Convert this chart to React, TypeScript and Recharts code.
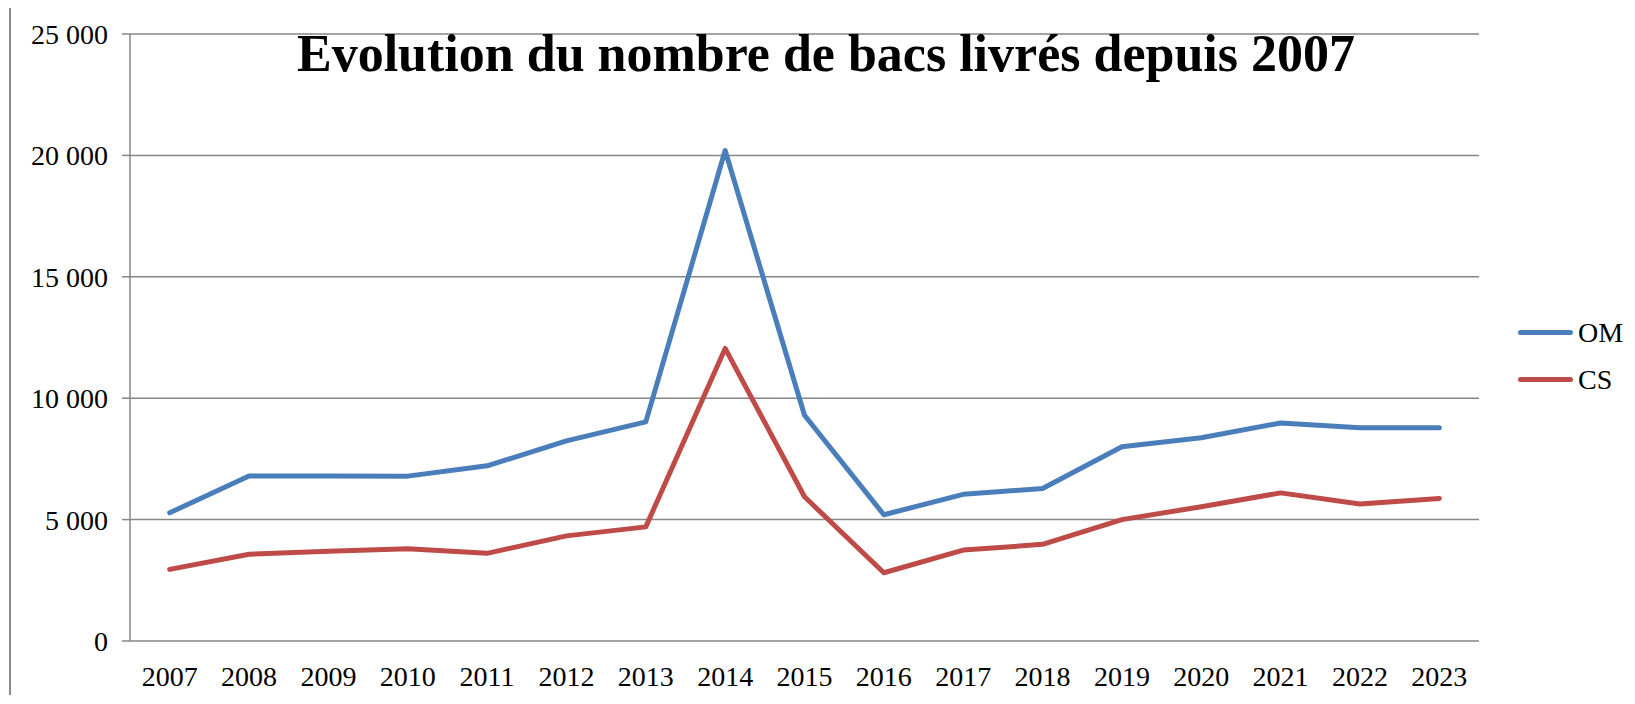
import React from "react";
import { LineChart, Line, XAxis, YAxis, CartesianGrid, Customized } from "recharts";

const years = ["2007", "2008", "2009", "2010", "2011", "2012", "2013", "2014", "2015", "2016", "2017", "2018", "2019", "2020", "2021", "2022", "2023"];
const omValues = [5280, 6800, 6800, 6790, 7215, 8240, 9025, 20200, 9300, 5200, 6040, 6280, 8000, 8370, 8980, 8780, 8780];
const csValues = [2950, 3570, 3700, 3800, 3610, 4330, 4700, 12050, 5940, 2810, 3745, 3980, 5000, 5530, 6100, 5640, 5870];
const yTicks = [0, 5000, 10000, 15000, 20000, 25000];
const title = "Evolution du nombre de bacs livrés depuis 2007";

const series = [
  { key: "OM", color: "#4A7EBB" },
  { key: "CS", color: "#BE4B48" },
];

const data = years.map((y, i) => ({ pos: i + 0.5, year: y, OM: omValues[i], CS: csValues[i] }));
const boundaryTicks = years.map((_, i) => i).concat([years.length]);
const centerTicks = years.map((_, i) => i + 0.5);

const FONT = "'Liberation Serif', 'DejaVu Serif', serif";
const GRID = "#868686";

const fmt = (v: number) => {
  const s = String(Math.round(v));
  return s.replace(/\B(?=(\d{3})+(?!\d))/g, " ");
};

const Decor = () => (
  <g>
    <path d="M 2 720 L 2 1.5 L 1640 1.5" fill="none" stroke="#8c8c8c" strokeWidth={2} />
    <text
      x={818}
      y={66}
      textAnchor="middle"
      fontFamily={FONT}
      fontWeight="bold"
      fontSize={52}
      fill="#000"
    >
      {title}
    </text>
  </g>
);

export default function App() {
  return (
    <div style={{ position: "relative", marginTop: -3, width: 1627, height: 690, fontFamily: FONT }}>
      <style>{"html,body{overflow:hidden}"}</style>
      <LineChart
        width={1627}
        height={690}
        data={data}
        margin={{ top: 29, right: 156, left: 0, bottom: 0 }}
        style={{ overflow: "visible" }}
      >
        <CartesianGrid vertical={false} stroke={GRID} strokeWidth={1.5} xAxisId="grid" />
        <XAxis
          xAxisId="grid"
          type="number"
          dataKey="pos"
          domain={[0, years.length]}
          ticks={boundaryTicks}
          tickFormatter={() => ""}
          tickSize={8}
          tickLine={{ stroke: GRID, strokeWidth: 1.5 }}
          axisLine={{ stroke: GRID, strokeWidth: 1.5 }}
          height={0}
          interval={0}
          allowDecimals
        />
        <XAxis
          xAxisId="lab"
          type="number"
          dataKey="pos"
          domain={[0, years.length]}
          ticks={centerTicks}
          tickFormatter={(v: number) => years[Math.floor(v)]}
          tickLine={false}
          axisLine={false}
          tickMargin={19}
          height={54}
          interval={0}
          allowDecimals
          tick={{ fill: "#000", fontSize: 28, fontFamily: FONT }}
        />
        <YAxis
          domain={[0, 25000]}
          ticks={yTicks}
          tickFormatter={fmt}
          width={122}
          tickSize={8}
          tickMargin={14}
          tickLine={{ stroke: GRID, strokeWidth: 1.5 }}
          axisLine={{ stroke: GRID, strokeWidth: 1.5 }}
          tick={{ fill: "#000", fontSize: 28, fontFamily: FONT }}
          interval={0}
        />
        {series.map((s) => (
          <Line
            key={s.key}
            xAxisId="lab"
            type="linear"
            dataKey={s.key}
            stroke={s.color}
            strokeWidth={5}
            strokeLinecap="round"
            strokeLinejoin="round"
            dot={false}
            activeDot={false}
            isAnimationActive={false}
          />
        ))}
        <Customized component={Decor} />
      </LineChart>
      <div style={{ position: "absolute", left: 1510, top: 304 }}>
        {series.map((s) => (
          <div key={s.key} style={{ display: "flex", alignItems: "center", height: 47 }}>
            <div style={{ width: 55, height: 5, borderRadius: 3, background: s.color }} />
            <span style={{ marginLeft: 5, fontSize: 28, color: "#000" }}>{s.key}</span>
          </div>
        ))}
      </div>
    </div>
  );
}
